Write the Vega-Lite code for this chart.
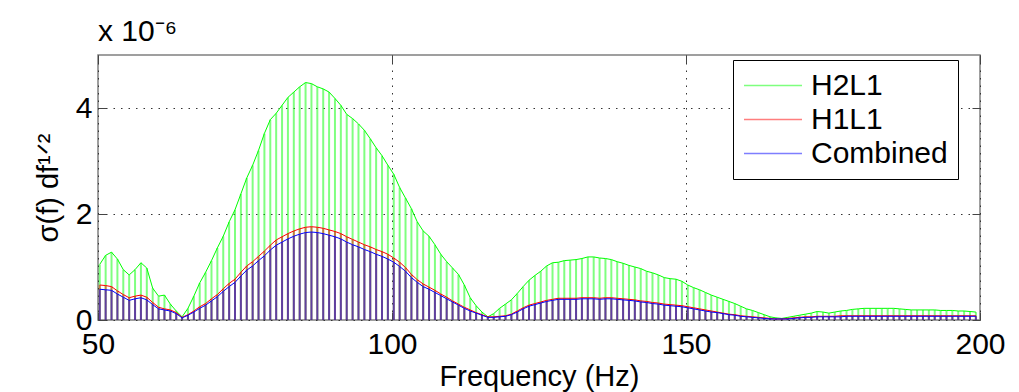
{
"$schema":"https://vega.github.io/schema/vega-lite/v6.json",
"width":882,"height":265,
"autosize":{"type":"none"},
"padding":{"left":98,"top":55,"right":39,"bottom":72},
"background":"white",
"config":{"font":"Liberation Sans","view":{"stroke":"#808080","strokeWidth":1.5},
"axis":{"domain":false,"labelFontSize":30,"labelColor":"black","titleFontSize":29,"titleFontWeight":"normal","titleColor":"black","tickColor":"#444444","tickSize":-8,"tickWidth":1,"labelFlush":false,"gridColor":"#333333","gridDash":[1.5,6],"gridWidth":1,"gridOpacity":1}},
"title":{"text":"x 10⁻⁶","anchor":"start","frame":"group","fontSize":30,"fontWeight":"normal","color":"black","offset":8},
"data":{"values":[
{"f":50.3,"H2L1":1.05,"H1L1":0.66,"Combined":0.58},
{"f":51.3,"H2L1":1.22,"H1L1":0.65,"Combined":0.57},
{"f":52.3,"H2L1":1.28,"H1L1":0.63,"Combined":0.56},
{"f":53.3,"H2L1":1.15,"H1L1":0.55,"Combined":0.49},
{"f":54.3,"H2L1":0.95,"H1L1":0.48,"Combined":0.43},
{"f":55.3,"H2L1":0.85,"H1L1":0.42,"Combined":0.37},
{"f":56.3,"H2L1":0.95,"H1L1":0.45,"Combined":0.40},
{"f":57.3,"H2L1":1.08,"H1L1":0.47,"Combined":0.42},
{"f":58.3,"H2L1":0.98,"H1L1":0.43,"Combined":0.38},
{"f":59.3,"H2L1":0.60,"H1L1":0.33,"Combined":0.29},
{"f":60.3,"H2L1":0.45,"H1L1":0.24,"Combined":0.21},
{"f":61.3,"H2L1":0.47,"H1L1":0.21,"Combined":0.19},
{"f":62.3,"H2L1":0.30,"H1L1":0.19,"Combined":0.17},
{"f":63.3,"H2L1":0.17,"H1L1":0.14,"Combined":0.12},
{"f":64.3,"H2L1":0.06,"H1L1":0.05,"Combined":0.04},
{"f":65.3,"H2L1":0.22,"H1L1":0.10,"Combined":0.09},
{"f":66.3,"H2L1":0.45,"H1L1":0.17,"Combined":0.15},
{"f":67.3,"H2L1":0.70,"H1L1":0.25,"Combined":0.22},
{"f":68.3,"H2L1":0.90,"H1L1":0.31,"Combined":0.28},
{"f":69.3,"H2L1":1.12,"H1L1":0.40,"Combined":0.36},
{"f":70.3,"H2L1":1.36,"H1L1":0.48,"Combined":0.44},
{"f":71.3,"H2L1":1.58,"H1L1":0.59,"Combined":0.54},
{"f":72.3,"H2L1":1.85,"H1L1":0.69,"Combined":0.63},
{"f":73.3,"H2L1":2.08,"H1L1":0.77,"Combined":0.71},
{"f":74.3,"H2L1":2.38,"H1L1":0.90,"Combined":0.83},
{"f":75.3,"H2L1":2.68,"H1L1":1.02,"Combined":0.94},
{"f":76.3,"H2L1":2.92,"H1L1":1.10,"Combined":1.02},
{"f":77.3,"H2L1":3.20,"H1L1":1.20,"Combined":1.12},
{"f":78.3,"H2L1":3.52,"H1L1":1.30,"Combined":1.21},
{"f":79.3,"H2L1":3.78,"H1L1":1.41,"Combined":1.32},
{"f":80.3,"H2L1":3.90,"H1L1":1.51,"Combined":1.41},
{"f":81.3,"H2L1":4.05,"H1L1":1.57,"Combined":1.47},
{"f":82.3,"H2L1":4.20,"H1L1":1.63,"Combined":1.53},
{"f":83.3,"H2L1":4.30,"H1L1":1.68,"Combined":1.58},
{"f":84.3,"H2L1":4.40,"H1L1":1.72,"Combined":1.62},
{"f":85.3,"H2L1":4.48,"H1L1":1.75,"Combined":1.65},
{"f":86.3,"H2L1":4.46,"H1L1":1.76,"Combined":1.66},
{"f":87.3,"H2L1":4.40,"H1L1":1.75,"Combined":1.65},
{"f":88.3,"H2L1":4.36,"H1L1":1.73,"Combined":1.63},
{"f":89.3,"H2L1":4.30,"H1L1":1.70,"Combined":1.60},
{"f":90.3,"H2L1":4.18,"H1L1":1.67,"Combined":1.57},
{"f":91.3,"H2L1":4.05,"H1L1":1.63,"Combined":1.53},
{"f":92.3,"H2L1":3.88,"H1L1":1.57,"Combined":1.47},
{"f":93.3,"H2L1":3.80,"H1L1":1.52,"Combined":1.42},
{"f":94.3,"H2L1":3.70,"H1L1":1.47,"Combined":1.38},
{"f":95.3,"H2L1":3.58,"H1L1":1.42,"Combined":1.33},
{"f":96.3,"H2L1":3.42,"H1L1":1.38,"Combined":1.29},
{"f":97.3,"H2L1":3.25,"H1L1":1.33,"Combined":1.24},
{"f":98.3,"H2L1":3.10,"H1L1":1.29,"Combined":1.20},
{"f":99.3,"H2L1":2.92,"H1L1":1.24,"Combined":1.15},
{"f":100.3,"H2L1":2.75,"H1L1":1.17,"Combined":1.09},
{"f":101.3,"H2L1":2.50,"H1L1":1.09,"Combined":1.01},
{"f":102.3,"H2L1":2.30,"H1L1":0.99,"Combined":0.92},
{"f":103.3,"H2L1":2.10,"H1L1":0.86,"Combined":0.80},
{"f":104.3,"H2L1":1.85,"H1L1":0.76,"Combined":0.71},
{"f":105.3,"H2L1":1.68,"H1L1":0.68,"Combined":0.63},
{"f":106.3,"H2L1":1.58,"H1L1":0.62,"Combined":0.58},
{"f":107.3,"H2L1":1.42,"H1L1":0.56,"Combined":0.52},
{"f":108.3,"H2L1":1.24,"H1L1":0.49,"Combined":0.46},
{"f":109.3,"H2L1":1.10,"H1L1":0.43,"Combined":0.40},
{"f":110.3,"H2L1":0.98,"H1L1":0.36,"Combined":0.34},
{"f":111.3,"H2L1":0.86,"H1L1":0.30,"Combined":0.28},
{"f":112.3,"H2L1":0.66,"H1L1":0.24,"Combined":0.22},
{"f":113.3,"H2L1":0.42,"H1L1":0.19,"Combined":0.17},
{"f":114.3,"H2L1":0.27,"H1L1":0.14,"Combined":0.13},
{"f":115.3,"H2L1":0.15,"H1L1":0.10,"Combined":0.09},
{"f":116.3,"H2L1":0.06,"H1L1":0.06,"Combined":0.05},
{"f":117.3,"H2L1":0.12,"H1L1":0.06,"Combined":0.05},
{"f":118.3,"H2L1":0.22,"H1L1":0.07,"Combined":0.06},
{"f":119.3,"H2L1":0.30,"H1L1":0.08,"Combined":0.07},
{"f":120.3,"H2L1":0.38,"H1L1":0.11,"Combined":0.10},
{"f":121.3,"H2L1":0.50,"H1L1":0.17,"Combined":0.15},
{"f":122.3,"H2L1":0.63,"H1L1":0.23,"Combined":0.21},
{"f":123.3,"H2L1":0.75,"H1L1":0.28,"Combined":0.26},
{"f":124.3,"H2L1":0.84,"H1L1":0.31,"Combined":0.29},
{"f":125.3,"H2L1":0.92,"H1L1":0.34,"Combined":0.32},
{"f":126.3,"H2L1":1.02,"H1L1":0.37,"Combined":0.35},
{"f":127.3,"H2L1":1.08,"H1L1":0.39,"Combined":0.37},
{"f":128.3,"H2L1":1.09,"H1L1":0.41,"Combined":0.39},
{"f":129.3,"H2L1":1.12,"H1L1":0.41,"Combined":0.39},
{"f":130.3,"H2L1":1.13,"H1L1":0.41,"Combined":0.39},
{"f":131.3,"H2L1":1.14,"H1L1":0.41,"Combined":0.39},
{"f":132.3,"H2L1":1.16,"H1L1":0.42,"Combined":0.40},
{"f":133.3,"H2L1":1.19,"H1L1":0.42,"Combined":0.40},
{"f":134.3,"H2L1":1.19,"H1L1":0.42,"Combined":0.40},
{"f":135.3,"H2L1":1.17,"H1L1":0.41,"Combined":0.39},
{"f":136.3,"H2L1":1.16,"H1L1":0.42,"Combined":0.40},
{"f":137.3,"H2L1":1.14,"H1L1":0.42,"Combined":0.40},
{"f":138.3,"H2L1":1.10,"H1L1":0.41,"Combined":0.39},
{"f":139.3,"H2L1":1.07,"H1L1":0.40,"Combined":0.38},
{"f":140.3,"H2L1":1.03,"H1L1":0.39,"Combined":0.37},
{"f":141.3,"H2L1":1.00,"H1L1":0.38,"Combined":0.36},
{"f":142.3,"H2L1":0.97,"H1L1":0.36,"Combined":0.34},
{"f":143.3,"H2L1":0.92,"H1L1":0.35,"Combined":0.33},
{"f":144.3,"H2L1":0.89,"H1L1":0.33,"Combined":0.31},
{"f":145.3,"H2L1":0.85,"H1L1":0.32,"Combined":0.30},
{"f":146.3,"H2L1":0.80,"H1L1":0.30,"Combined":0.28},
{"f":147.3,"H2L1":0.78,"H1L1":0.29,"Combined":0.27},
{"f":148.3,"H2L1":0.77,"H1L1":0.28,"Combined":0.26},
{"f":149.3,"H2L1":0.73,"H1L1":0.27,"Combined":0.25},
{"f":150.3,"H2L1":0.66,"H1L1":0.25,"Combined":0.23},
{"f":151.3,"H2L1":0.61,"H1L1":0.23,"Combined":0.21},
{"f":152.3,"H2L1":0.57,"H1L1":0.21,"Combined":0.19},
{"f":153.3,"H2L1":0.52,"H1L1":0.19,"Combined":0.17},
{"f":154.3,"H2L1":0.47,"H1L1":0.17,"Combined":0.15},
{"f":155.3,"H2L1":0.43,"H1L1":0.15,"Combined":0.14},
{"f":156.3,"H2L1":0.39,"H1L1":0.13,"Combined":0.12},
{"f":157.3,"H2L1":0.35,"H1L1":0.11,"Combined":0.10},
{"f":158.3,"H2L1":0.31,"H1L1":0.10,"Combined":0.09},
{"f":159.3,"H2L1":0.26,"H1L1":0.08,"Combined":0.07},
{"f":160.3,"H2L1":0.21,"H1L1":0.07,"Combined":0.06},
{"f":161.3,"H2L1":0.18,"H1L1":0.06,"Combined":0.05},
{"f":162.3,"H2L1":0.14,"H1L1":0.05,"Combined":0.04},
{"f":163.3,"H2L1":0.10,"H1L1":0.04,"Combined":0.03},
{"f":164.3,"H2L1":0.06,"H1L1":0.03,"Combined":0.02},
{"f":165.3,"H2L1":0.04,"H1L1":0.02,"Combined":0.02},
{"f":166.3,"H2L1":0.03,"H1L1":0.02,"Combined":0.02},
{"f":167.3,"H2L1":0.05,"H1L1":0.03,"Combined":0.02},
{"f":168.3,"H2L1":0.07,"H1L1":0.04,"Combined":0.03},
{"f":169.3,"H2L1":0.09,"H1L1":0.05,"Combined":0.04},
{"f":170.3,"H2L1":0.11,"H1L1":0.06,"Combined":0.05},
{"f":171.3,"H2L1":0.13,"H1L1":0.06,"Combined":0.05},
{"f":172.3,"H2L1":0.16,"H1L1":0.07,"Combined":0.06},
{"f":173.3,"H2L1":0.15,"H1L1":0.07,"Combined":0.06},
{"f":174.3,"H2L1":0.13,"H1L1":0.07,"Combined":0.06},
{"f":175.3,"H2L1":0.15,"H1L1":0.07,"Combined":0.06},
{"f":176.3,"H2L1":0.17,"H1L1":0.08,"Combined":0.06},
{"f":177.3,"H2L1":0.18,"H1L1":0.08,"Combined":0.07},
{"f":178.3,"H2L1":0.20,"H1L1":0.08,"Combined":0.07},
{"f":179.3,"H2L1":0.21,"H1L1":0.08,"Combined":0.07},
{"f":180.3,"H2L1":0.22,"H1L1":0.08,"Combined":0.07},
{"f":181.3,"H2L1":0.22,"H1L1":0.08,"Combined":0.07},
{"f":182.3,"H2L1":0.22,"H1L1":0.08,"Combined":0.07},
{"f":183.3,"H2L1":0.22,"H1L1":0.08,"Combined":0.07},
{"f":184.3,"H2L1":0.22,"H1L1":0.08,"Combined":0.07},
{"f":185.3,"H2L1":0.22,"H1L1":0.08,"Combined":0.07},
{"f":186.3,"H2L1":0.21,"H1L1":0.08,"Combined":0.07},
{"f":187.3,"H2L1":0.20,"H1L1":0.08,"Combined":0.07},
{"f":188.3,"H2L1":0.19,"H1L1":0.08,"Combined":0.07},
{"f":189.3,"H2L1":0.19,"H1L1":0.08,"Combined":0.07},
{"f":190.3,"H2L1":0.19,"H1L1":0.08,"Combined":0.07},
{"f":191.3,"H2L1":0.19,"H1L1":0.08,"Combined":0.07},
{"f":192.3,"H2L1":0.19,"H1L1":0.08,"Combined":0.07},
{"f":193.3,"H2L1":0.18,"H1L1":0.08,"Combined":0.07},
{"f":194.3,"H2L1":0.18,"H1L1":0.08,"Combined":0.07},
{"f":195.3,"H2L1":0.18,"H1L1":0.08,"Combined":0.07},
{"f":196.3,"H2L1":0.17,"H1L1":0.08,"Combined":0.07},
{"f":197.3,"H2L1":0.17,"H1L1":0.08,"Combined":0.07},
{"f":198.3,"H2L1":0.16,"H1L1":0.08,"Combined":0.07},
{"f":199.3,"H2L1":0.15,"H1L1":0.08,"Combined":0.07}
]},
"transform":[{"fold":["H2L1","H1L1","Combined"],"as":["series","value"]}],
"layer":[
{"mark":{"type":"rule","strokeWidth":2},
 "encoding":{
  "x":{"field":"f","type":"quantitative","scale":{"domain":[50,200],"nice":false,"zero":false},
       "axis":{"orient":"bottom","values":[50,100,150,200],"title":"Frequency (Hz)","grid":true,"labelPadding":17,"titlePadding":3}},
  "y":{"field":"value","type":"quantitative","scale":{"domain":[0,5],"nice":false},
       "axis":{"orient":"left","values":[0,2,4],"title":"σ(f) df¹ᐟ²","grid":true,"labelPadding":14,"titlePadding":12}},
  "y2":{"datum":0},
  "opacity":{"field":"series","type":"nominal","scale":{"domain":["H2L1","H1L1","Combined"],"range":[0.5,0.5,0.75]},"legend":null},
  "color":{"field":"series","type":"nominal","sort":["H2L1","H1L1","Combined"],
     "scale":{"domain":["H2L1","H1L1","Combined"],"range":["#00ff00","#ff0000","#0000ff"]},
     "legend":{"orient":"none","legendX":635,"legendY":5,"title":null,"fillColor":"white","strokeColor":"black","padding":10,
       "labelFontSize":30,"labelColor":"black","labelOffset":37,"rowPadding":3,"symbolType":"M-1,0H3","symbolSize":841,"symbolStrokeWidth":1.5,"symbolOpacity":1}}
 }},
{"mark":{"type":"line","strokeWidth":1},
 "encoding":{
  "x":{"field":"f","type":"quantitative","scale":{"domain":[50,200],"nice":false,"zero":false},
       "axis":{"orient":"top","values":[50,100,150,200],"title":null,"labels":false,"grid":false}},
  "y":{"field":"value","type":"quantitative","scale":{"domain":[0,5],"nice":false},
       "axis":{"orient":"right","values":[0,2,4],"title":null,"labels":false,"grid":false}},
  "color":{"field":"series","type":"nominal","sort":["H2L1","H1L1","Combined"]}
 }}
],
"resolve":{"axis":{"x":"independent","y":"independent"}}
}
